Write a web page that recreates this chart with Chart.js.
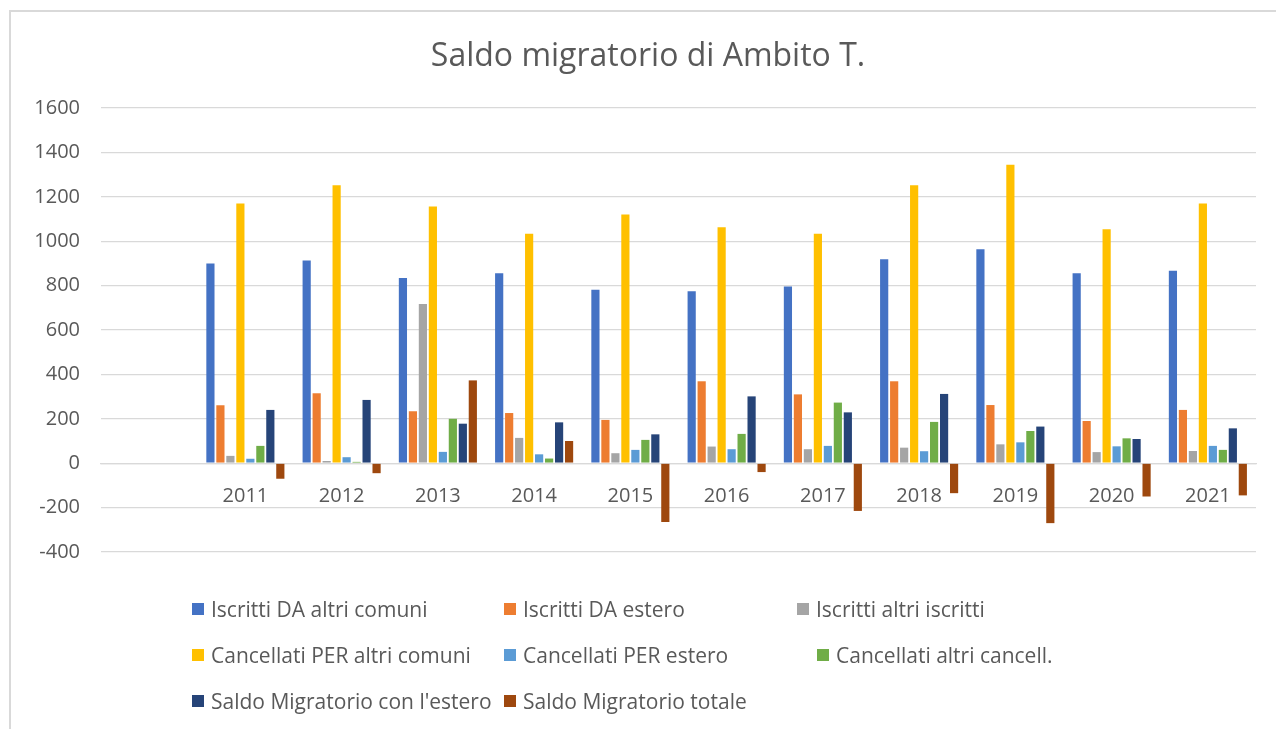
<!DOCTYPE html>
<html>
<head>
<meta charset="utf-8">
<script src="https://cdn.jsdelivr.net/npm/chart.js@4.4.1/dist/chart.umd.min.js"></script>
<style>
  html, body { margin: 0; padding: 0; background: #ffffff; }
  #wrap { position: relative; width: 1276px; height: 729px; overflow: hidden; font-family: "Open Sans", sans-serif; }
  #frame { position: absolute; left: 9px; top: 10px; width: 1400px; height: 800px; border-left: 2px solid #d9d9d9; border-top: 2px solid #d9d9d9; box-sizing: border-box; }
  canvas { position: absolute; left: 0; top: 0; }
  #legend { position: absolute; left: 192px; top: 586px; display: grid; grid-template-columns: 312px 293px auto; color: #595959; font-size: 21px; }
  .item { display: flex; align-items: center; height: 46px; white-space: nowrap; }
  .box { width: 12px; height: 12px; margin-right: 7px; flex: none; }
  .shift { margin-left: 20px; }
</style>
</head>
<body>
<div id="wrap">
  <div id="frame"></div>
  <canvas id="c" width="1276" height="729"></canvas>
  <div id="legend"></div>
</div>
<script>
const years = ["2011","2012","2013","2014","2015","2016","2017","2018","2019","2020","2021"];
const iscrittiAltriComuni   = [900, 913, 834, 856, 781, 775, 796, 919, 964, 856, 867];
const iscrittiEstero        = [261, 315, 234, 226, 195, 369, 310, 369, 262, 190, 240];
const iscrittiAltri         = [33, 10, 717, 114, 45, 75, 63, 70, 85, 50, 55];
const cancellatiAltriComuni = [1170, 1252, 1156, 1033, 1120, 1063, 1033, 1252, 1344, 1054, 1170];
const cancellatiEstero      = [20, 27, 51, 40, 60, 63, 78, 54, 94, 76, 78];
const cancellatiAltri       = [78, 6, 200, 21, 105, 132, 273, 186, 145, 112, 60];
const saldoEstero           = [240, 285, 178, 184, 130, 301, 229, 312, 165, 109, 157];
const saldoTotale           = [-70, -45, 373, 100, -265, -40, -215, -135, -270, -150, -145];
const yTicks = [-400, -200, 0, 200, 400, 600, 800, 1000, 1200, 1400, 1600];

const seriesNames = ["Iscritti DA altri comuni","Iscritti DA estero","Iscritti altri iscritti","Cancellati PER altri comuni","Cancellati PER estero","Cancellati altri cancell.","Saldo Migratorio con l'estero","Saldo Migratorio totale"];
const seriesData = [iscrittiAltriComuni, iscrittiEstero, iscrittiAltri, cancellatiAltriComuni, cancellatiEstero, cancellatiAltri, saldoEstero, saldoTotale];
const colors = ["#4472C4","#ED7D31","#A5A5A5","#FFC000","#5B9BD5","#70AD47","#264478","#9E480E"];

const labels = [""].concat(years);
const datasets = seriesNames.map((n, i) => ({
  label: n,
  data: [null].concat(seriesData[i]),
  backgroundColor: colors[i],
  borderWidth: 0,
  categoryPercentage: 0.83,
  barPercentage: 0.82
}));

const txt = "#595959";
new Chart(document.getElementById("c"), {
  type: "bar",
  data: { labels, datasets },
  options: {
    responsive: false,
    animation: false,
    layout: { padding: { left: 30, right: 10, top: 0, bottom: 177 } },
    plugins: {
      legend: { display: false },
      tooltip: { enabled: false },
      title: {
        display: true,
        text: "Saldo migratorio di Ambito T.",
        color: txt,
        font: { family: "Open Sans", size: 32, weight: "normal", lineHeight: 1.2 },
        padding: { top: 38, bottom: 31.6 }
      }
    },
    scales: {
      y: {
        min: -400, max: 1600,
        afterFit: s => { s.width = 71; },
        afterBuildTicks: s => { s.ticks = yTicks.map(v => ({ value: v })); },
        grid: { color: "#d9d9d9", lineWidth: 1.3, drawTicks: false },
        border: { display: false },
        ticks: { color: txt, padding: 21, font: { family: "Open Sans", size: 20 }, callback: v => String(v) }
      },
      yRight: {
        position: "right",
        min: -400, max: 1600,
        afterFit: s => { s.width = 10; },
        grid: { display: false, drawTicks: false },
        border: { display: false },
        ticks: { display: false }
      },
      x: {
        position: { y: 0 },
        grid: { display: false, drawTicks: false },
        border: { display: true, color: "#d9d9d9", width: 1.3 },
        ticks: { color: txt, padding: 21, maxRotation: 0, autoSkip: false, font: { family: "Open Sans", size: 20 } }
      }
    }
  }
});

const leg = document.getElementById("legend");
seriesNames.forEach((n, i) => {
  const d = document.createElement("div");
  d.className = "item" + (i === 5 ? " shift" : "");
  d.innerHTML = '<span class="box" style="background:' + colors[i] + '"></span><span></span>';
  d.lastChild.textContent = n;
  leg.appendChild(d);
});
</script>
</body>
</html>
